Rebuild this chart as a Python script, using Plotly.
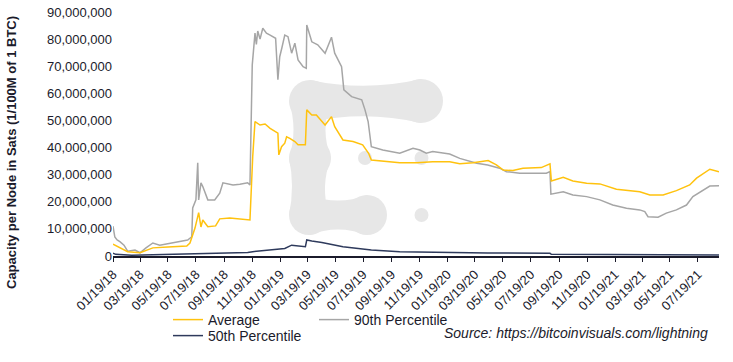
import plotly.graph_objects as go

# ---------------- data (values in millions of sats) ----------------
dates_p90 = ["2018-01-19", "2018-01-23", "2018-01-28", "2018-02-03", "2018-02-12", "2018-02-20",
             "2018-03-08", "2018-03-19", "2018-04-01", "2018-04-16", "2018-05-01", "2018-05-19",
             "2018-06-08", "2018-07-01", "2018-07-10", "2018-07-12", "2018-07-19", "2018-07-22",
             "2018-07-23", "2018-07-25", "2018-07-30", "2018-08-03", "2018-08-08", "2018-08-14",
             "2018-08-29", "2018-09-09", "2018-09-16", "2018-10-08", "2018-10-23", "2018-11-09",
             "2018-11-14", "2018-11-16", "2018-11-19", "2018-11-25", "2018-11-28", "2018-12-01",
             "2018-12-06", "2018-12-12", "2018-12-20", "2018-12-28", "2019-01-09", "2019-01-14",
             "2019-01-18", "2019-01-23", "2019-01-29", "2019-02-05", "2019-02-13", "2019-02-20",
             "2019-02-27", "2019-03-10", "2019-03-17", "2019-03-18", "2019-03-29", "2019-04-11",
             "2019-04-27", "2019-05-11", "2019-05-18", "2019-06-02", "2019-06-07", "2019-06-24",
             "2019-07-16", "2019-07-23", "2019-07-30", "2019-08-06", "2019-08-31", "2019-10-07",
             "2019-11-05", "2019-11-20", "2019-12-04", "2019-12-18", "2020-01-24", "2020-02-15",
             "2020-03-23", "2020-04-16", "2020-05-12", "2020-05-27", "2020-06-25", "2020-08-22",
             "2020-08-30", "2020-09-01", "2020-09-28", "2020-10-19", "2020-11-18", "2020-12-17",
             "2021-01-14", "2021-02-13", "2021-03-14", "2021-03-25", "2021-04-01", "2021-04-23",
             "2021-05-11", "2021-06-02", "2021-06-24", "2021-07-08", "2021-07-30", "2021-08-14",
             "2021-09-03"]
p90 = [11.0, 7.0, 5.9, 5.3, 4.0, 1.8,
       2.2, 1.2, 3.0, 4.8, 4.0, 4.6,
       5.3, 5.9, 7.1, 17.7, 20.7, 28.0,
       34.4, 20.7, 27.0, 25.6, 23.0, 20.7,
       20.7, 23.2, 27.0, 26.2, 26.5, 27.0,
       26.2, 50.0, 70.5, 82.2, 78.0, 83.0,
       80.0, 84.0, 82.2, 81.5, 80.3, 65.0,
       73.5, 77.0, 81.5, 80.9, 74.8, 78.5,
       72.3, 69.8, 69.2, 85.2, 79.0, 77.9,
       74.8, 80.7, 74.8, 69.8, 61.3, 58.8,
       57.6, 54.0, 49.6, 40.3, 39.1, 37.9,
       39.7, 39.1, 37.9, 38.5, 37.6, 36.0,
       34.2, 33.6, 32.4, 31.1, 30.5, 30.5,
       31.1, 22.8, 23.7, 22.5, 21.9, 20.7,
       18.8, 17.6, 17.0, 16.4, 14.5, 14.3,
       15.8, 17.0, 18.8, 21.9, 24.4, 25.8,
       25.9]

dates_avg = ["2018-01-19", "2018-02-03", "2018-02-20", "2018-03-19", "2018-04-16", "2018-05-19",
             "2018-06-29", "2018-07-06", "2018-07-17", "2018-07-25", "2018-07-30", "2018-08-03",
             "2018-08-14", "2018-08-31", "2018-09-09", "2018-10-01", "2018-11-09", "2018-11-14",
             "2018-11-20", "2018-11-25", "2018-12-06", "2018-12-17", "2018-12-28", "2019-01-14",
             "2019-01-16", "2019-01-22", "2019-01-29", "2019-02-02", "2019-02-09", "2019-02-20",
             "2019-02-27", "2019-03-15", "2019-03-18", "2019-03-29", "2019-04-08", "2019-04-27",
             "2019-05-11", "2019-05-18", "2019-06-05", "2019-06-27", "2019-07-18", "2019-07-31",
             "2019-08-06", "2019-09-08", "2019-10-07", "2019-11-13", "2019-12-18", "2020-01-24",
             "2020-02-15", "2020-03-15", "2020-04-17", "2020-05-05", "2020-05-20", "2020-06-10",
             "2020-07-02", "2020-08-11", "2020-08-30", "2020-09-02", "2020-09-28", "2020-10-19",
             "2020-11-18", "2020-12-17", "2021-01-22", "2021-03-14", "2021-04-05", "2021-05-04",
             "2021-06-02", "2021-07-01", "2021-07-16", "2021-08-14", "2021-09-03"]
avg = [4.4, 3.0, 1.6, 1.2, 3.0, 3.3,
       3.7, 4.8, 10.3, 16.0, 10.7, 13.3,
       10.8, 11.1, 13.7, 14.0, 13.3, 13.3,
       36.6, 49.6, 48.3, 48.7, 47.1, 45.3,
       37.3, 40.3, 41.6, 44.0, 43.4, 42.2,
       41.0, 41.0, 53.9, 52.0, 52.0, 48.3,
       51.4, 47.7, 42.8, 42.2, 41.0, 37.9,
       35.4, 34.8, 34.4, 34.4, 34.8, 34.8,
       34.0, 34.4, 35.2, 33.6, 31.7, 31.5,
       32.4, 32.6, 34.0, 27.7, 29.0, 27.7,
       26.8, 26.6, 24.6, 23.7, 22.5, 22.5,
       24.1, 26.2, 28.7, 32.0, 31.1]

dates_p50 = ["2018-01-19", "2018-01-25", "2018-03-01", "2018-05-01", "2018-07-15", "2018-09-15",
             "2018-11-09", "2018-11-20", "2019-01-01", "2019-01-29", "2019-02-13", "2019-02-27",
             "2019-03-15", "2019-03-18", "2019-03-29", "2019-04-20", "2019-06-05", "2019-08-06",
             "2019-10-07", "2020-04-16", "2020-08-30", "2020-09-02", "2021-09-03"]
p50 = [1.0, 0.6, 0.3, 0.5, 0.8, 1.0,
       1.3, 1.6, 2.2, 2.8, 4.0, 3.6,
       3.4, 5.9, 5.5, 5.0, 3.4, 2.2,
       1.6, 1.1, 1.0, 0.6, 0.4]

tick_dates = ["2018-01-19", "2018-03-19", "2018-05-19", "2018-07-19", "2018-09-19", "2018-11-19",
              "2019-01-19", "2019-03-19", "2019-05-19", "2019-07-19", "2019-09-19", "2019-11-19",
              "2020-01-19", "2020-03-19", "2020-05-19", "2020-07-19", "2020-09-19", "2020-11-19",
              "2021-01-19", "2021-03-19", "2021-05-19", "2021-07-19"]
tick_labels = ["01/19/18", "03/19/18", "05/19/18", "07/19/18", "09/19/18", "11/19/18",
               "01/19/19", "03/19/19", "05/19/19", "07/19/19", "09/19/19", "11/19/19",
               "01/19/20", "03/19/20", "05/19/20", "07/19/20", "09/19/20", "11/19/20",
               "01/19/21", "03/19/21", "05/19/21", "07/19/21"]
y_ticks = [0, 10e6, 20e6, 30e6, 40e6, 50e6, 60e6, 70e6, 80e6, 90e6]
y_labels = ["0", "10,000,000", "20,000,000", "30,000,000", "40,000,000", "50,000,000",
            "60,000,000", "70,000,000", "80,000,000", "90,000,000"]

M = 1e6
# ---------------- layout geometry ----------------
W, H = 733, 362
L, R, T, B = 113, 14, 12, 106
PW, PH = W - L - R, H - T - B
FONT = "Liberation Sans, Arial, sans-serif"
TXT = "#1b1b2b"


def px(x):
    return (x - L) / PW


def py(y):
    return (T + PH - y) / PH


fig = go.Figure()
fig.add_trace(go.Scatter(x=dates_p90, y=[v * M for v in p90], mode="lines", name="90th Percentile",
                         line=dict(color="#a6a6a6", width=1.5), legend="legend3"))
fig.add_trace(go.Scatter(x=dates_avg, y=[v * M for v in avg], mode="lines", name="Average",
                         line=dict(color="#ffc20e", width=1.5), legend="legend"))
fig.add_trace(go.Scatter(x=dates_p50, y=[v * M for v in p50], mode="lines", name="50th Percentile",
                         line=dict(color="#2e3a5c", width=1.5), legend="legend2"))

# watermark logo (decorative)
WM = "#e7e7e7"
shapes = []


def circ(cx, cy, r):
    shapes.append(dict(type="circle", xref="x domain", yref="y domain", layer="below",
                       x0=px(cx - r), x1=px(cx + r), y0=py(cy + r), y1=py(cy - r),
                       fillcolor=WM, line=dict(width=0)))


def blob(pts):
    d = "M {},{}".format(px(pts[0][0]), py(pts[0][1]))
    i = 1
    while i + 1 < len(pts):
        (c1x, c1y), (ex, ey) = pts[i], pts[i + 1]
        d += " Q {},{} {},{}".format(px(c1x), py(c1y), px(ex), py(ey))
        i += 2
    d += " Z"
    shapes.append(dict(type="path", xref="x domain", yref="y domain", layer="below",
                       path=d, fillcolor=WM, line=dict(width=0)))


circ(310, 101, 21)
circ(421, 101, 22)
circ(310, 158, 21)
circ(309, 215, 20)
circ(367, 215, 20)
# concave connectors (top bar, column, bottom bar)
blob([(310, 80), (365, 92), (421, 79), (421, 101), (421, 123), (365, 110), (310, 122), (310, 101), (310, 80)])
blob([(289, 101), (298, 130), (289, 158), (295, 186), (289, 215), (309, 215), (329, 215),
      (320, 186), (331, 158), (320, 130), (331, 101), (310, 101), (289, 101)])
blob([(309, 195), (338, 206), (367, 195), (367, 215), (367, 235), (338, 224), (309, 235), (309, 215), (309, 195)])
circ(365, 158, 7)
circ(421.5, 158, 7)
circ(421.5, 215, 7)

leg_common = dict(orientation="h", xanchor="left", yanchor="middle",
                  font=dict(size=14, color=TXT), bgcolor="rgba(0,0,0,0)")

fig.update_layout(
    width=W, height=H,
    margin=dict(l=L, r=R, t=T, b=B, autoexpand=False),
    paper_bgcolor="white", plot_bgcolor="rgba(0,0,0,0)",
    font=dict(family=FONT, color=TXT, size=13),
    shapes=shapes,
    showlegend=True,
    legend=dict(x=px(168), y=py(320), **leg_common),
    legend3=dict(x=px(314), y=py(320), **leg_common),
    legend2=dict(x=px(168), y=py(336), **leg_common),
    xaxis=dict(type="date", range=["2018-01-19", "2021-09-03"], tickvals=tick_dates,
               ticktext=tick_labels, tickangle=-45, ticks="outside", ticklen=4,
               tickcolor=TXT, showline=True, linecolor=TXT, linewidth=1.5,
               showgrid=False, zeroline=False, tickfont=dict(size=13, color=TXT),
               automargin=False),
    yaxis=dict(range=[0, 90e6], tickvals=y_ticks, ticktext=y_labels, showgrid=False,
               zeroline=False, showline=False, ticks="", tickfont=dict(size=13, color=TXT),
               automargin=False),
    annotations=[
        dict(text="<b>Capacity per Node in Sats (1/100M of 1 BTC)</b>", textangle=-90,
             xref="paper", yref="paper", x=px(12), y=py(153), xanchor="center", yanchor="middle",
             showarrow=False, font=dict(size=13, color=TXT)),
        dict(text="<i>Source: https://bitcoinvisuals.com/lightning</i>", xref="paper", yref="paper",
             x=px(710), y=py(333), xanchor="right", yanchor="middle", showarrow=False,
             font=dict(size=14, color=TXT)),
    ],
)

fig.write_html("out.html", config={"displayModeBar": False},
               post_script="document.body.style.margin='0';")
